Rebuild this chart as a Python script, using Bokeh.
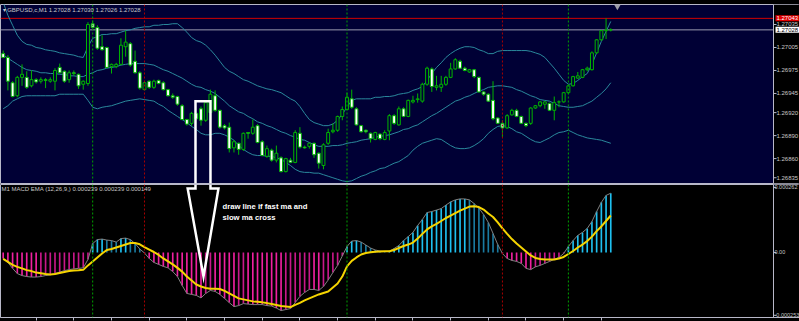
from bokeh.plotting import figure
from bokeh.models import (Range1d, Span, Label, BoxAnnotation, LinearAxis, FixedTicker,
                          CustomJSTickFormatter, ColumnDataSource)
from bokeh.layouts import column
from bokeh.embed import file_html
from bokeh.resources import INLINE

# ---------------- data ----------------
symbol_title = "\u25be GBPUSD,c,M1  1.27028 1.27030 1.27026 1.27028"
macd_title = "M1 MACD EMA (12,26,9,) 0.000239 0.000239 0.000149"
note_lines = ["draw line if fast ma and", "slow ma cross"]

opens = [1.26997,1.26992,1.26959,1.26942,1.26966,1.26966,1.26955,1.26963,1.26961,1.26963,
         1.26961,1.26961,1.26979,1.26974,1.26963,1.26972,1.26970,1.26957,1.26958,1.27036,
         1.27031,1.27006,1.27005,1.26980,1.26980,1.26983,1.27006,1.27010,1.26987,1.26972,
         1.26950,1.26961,1.26953,1.26962,1.26959,1.26950,1.26942,1.26941,1.26929,1.26911,
         1.26906,1.26919,1.26925,1.26910,1.26920,1.26942,1.26923,1.26903,1.26901,1.26874,
         1.26880,1.26872,1.26894,1.26893,1.26903,1.26882,1.26863,1.26871,1.26858,1.26861,
         1.26843,1.26858,1.26855,1.26893,1.26875,1.26876,1.26880,1.26867,1.26851,1.26880,
         1.26895,1.26897,1.26915,1.26924,1.26938,1.26925,1.26903,1.26897,1.26893,1.26885,
         1.26892,1.26885,1.26896,1.26916,1.26904,1.26925,1.26915,1.26934,1.26937,1.26935,
         1.26957,1.26977,1.26953,1.26953,1.26957,1.26966,1.26977,1.26987,1.26978,1.26973,
         1.26976,1.26966,1.26947,1.26944,1.26936,1.26913,1.26906,1.26900,1.26917,1.26923,
         1.26915,1.26906,1.26906,1.26926,1.26929,1.26931,1.26932,1.26923,1.26934,1.26934,
         1.26946,1.26955,1.26965,1.26966,1.26976,1.26976,1.26998,1.27015,1.27027,1.27028]
highs = [1.27001,1.26995,1.26961,1.26968,1.26983,1.26974,1.26975,1.26965,1.26966,1.26965,
         1.26966,1.26978,1.26984,1.26975,1.26975,1.26975,1.26971,1.26962,1.27038,1.27040,
         1.27034,1.27021,1.27006,1.26984,1.26985,1.27017,1.27027,1.27012,1.27001,1.26974,
         1.26960,1.26962,1.26963,1.26963,1.26961,1.26951,1.26945,1.26942,1.26931,1.26912,
         1.26921,1.26920,1.26928,1.26936,1.26950,1.26949,1.26924,1.26905,1.26907,1.26884,
         1.26881,1.26894,1.26894,1.26911,1.26905,1.26884,1.26877,1.26873,1.26877,1.26863,
         1.26861,1.26861,1.26897,1.26901,1.26877,1.26881,1.26881,1.26868,1.26880,1.26899,
         1.26906,1.26916,1.26928,1.26946,1.26950,1.26927,1.26904,1.26898,1.26894,1.26895,
         1.26893,1.26897,1.26918,1.26918,1.26928,1.26927,1.26937,1.26942,1.26945,1.26959,
         1.26980,1.26979,1.26968,1.26968,1.26968,1.26985,1.26991,1.26989,1.26980,1.26977,
         1.26977,1.26967,1.26948,1.26945,1.26961,1.26914,1.26910,1.26918,1.26925,1.26925,
         1.26916,1.26907,1.26927,1.26930,1.26935,1.26935,1.26933,1.26941,1.26936,1.26947,
         1.26957,1.26968,1.26973,1.26977,1.26980,1.27000,1.27016,1.27028,1.27043,1.27030]
lows = [1.26991,1.26949,1.26940,1.26940,1.26955,1.26951,1.26953,1.26958,1.26958,1.26952,
        1.26959,1.26949,1.26971,1.26959,1.26959,1.26968,1.26951,1.26950,1.26955,1.27030,
        1.27002,1.27001,1.26978,1.26971,1.26978,1.26982,1.26993,1.26980,1.26971,1.26950,
        1.26949,1.26951,1.26951,1.26957,1.26949,1.26941,1.26938,1.26929,1.26910,1.26903,
        1.26903,1.26911,1.26903,1.26908,1.26919,1.26921,1.26899,1.26898,1.26868,1.26868,
        1.26865,1.26870,1.26886,1.26891,1.26880,1.26863,1.26861,1.26856,1.26855,1.26842,
        1.26842,1.26854,1.26854,1.26873,1.26873,1.26873,1.26861,1.26847,1.26846,1.26878,
        1.26893,1.26895,1.26910,1.26923,1.26925,1.26903,1.26894,1.26893,1.26881,1.26884,
        1.26884,1.26884,1.26884,1.26904,1.26903,1.26914,1.26914,1.26932,1.26933,1.26933,
        1.26955,1.26947,1.26949,1.26947,1.26955,1.26965,1.26976,1.26977,1.26974,1.26972,
        1.26965,1.26946,1.26942,1.26934,1.26910,1.26905,1.26888,1.26899,1.26916,1.26914,
        1.26905,1.26901,1.26904,1.26925,1.26927,1.26925,1.26922,1.26910,1.26927,1.26933,
        1.26944,1.26954,1.26964,1.26965,1.26974,1.26975,1.26997,1.27014,1.27016,1.27026]
closes = [1.26992,1.26961,1.26941,1.26966,1.26970,1.26953,1.26963,1.26960,1.26963,1.26962,
          1.26963,1.26975,1.26972,1.26961,1.26972,1.26971,1.26955,1.26961,1.27035,1.27031,
          1.27004,1.27002,1.26979,1.26983,1.26983,1.27008,1.27012,1.26982,1.26972,1.26952,
          1.26959,1.26953,1.26961,1.26958,1.26950,1.26942,1.26940,1.26931,1.26911,1.26905,
          1.26919,1.26912,1.26910,1.26933,1.26944,1.26923,1.26901,1.26900,1.26873,1.26882,
          1.26872,1.26893,1.26893,1.26901,1.26881,1.26864,1.26873,1.26858,1.26867,1.26843,
          1.26860,1.26855,1.26894,1.26875,1.26874,1.26880,1.26865,1.26854,1.26878,1.26894,
          1.26897,1.26915,1.26924,1.26940,1.26927,1.26904,1.26895,1.26895,1.26886,1.26894,
          1.26886,1.26894,1.26916,1.26906,1.26925,1.26915,1.26936,1.26936,1.26938,1.26957,
          1.26978,1.26954,1.26955,1.26957,1.26966,1.26977,1.26989,1.26978,1.26975,1.26976,
          1.26967,1.26947,1.26944,1.26935,1.26912,1.26906,1.26900,1.26916,1.26923,1.26915,
          1.26906,1.26903,1.26926,1.26929,1.26934,1.26934,1.26923,1.26933,1.26934,1.26946,
          1.26955,1.26967,1.26968,1.26976,1.26978,1.26998,1.27015,1.27027,1.27028,1.27028]

bb_upper = [1.27064,1.27047,1.27034,1.27021,1.27013,1.27009,1.27008,1.27005,1.27004,1.27002,
            1.27001,1.27000,1.26998,1.26997,1.26996,1.26995,1.26993,1.26992,1.27006,1.27017,
            1.27019,1.27022,1.27022,1.27023,1.27023,1.27025,1.27027,1.27028,1.27030,1.27031,
            1.27032,1.27032,1.27034,1.27034,1.27035,1.27035,1.27036,1.27036,1.27031,1.27025,
            1.27018,1.27014,1.27012,1.27008,1.27002,1.26995,1.26987,1.26979,1.26974,1.26971,
            1.26967,1.26963,1.26961,1.26958,1.26955,1.26953,1.26951,1.26950,1.26948,1.26946,
            1.26942,1.26938,1.26935,1.26928,1.26919,1.26911,1.26907,1.26905,1.26903,1.26903,
            1.26905,1.26910,1.26918,1.26927,1.26936,1.26938,1.26938,1.26938,1.26938,1.26940,
            1.26940,1.26941,1.26941,1.26942,1.26944,1.26945,1.26946,1.26949,1.26951,1.26954,
            1.26962,1.26971,1.26979,1.26985,1.26992,1.26997,1.27001,1.27004,1.27006,1.27006,
            1.27005,1.27002,1.27000,1.26997,1.26997,1.27000,1.27001,1.27001,1.27001,1.27001,
            1.27001,1.27001,1.27000,1.26998,1.26996,1.26992,1.26985,1.26978,1.26970,1.26962,
            1.26957,1.26958,1.26962,1.26967,1.26971,1.26983,1.26998,1.27013,1.27026,1.27039]
bb_middle = [1.26995,1.26991,1.26987,1.26983,1.26979,1.26976,1.26975,1.26974,1.26972,1.26972,
             1.26971,1.26971,1.26970,1.26970,1.26968,1.26968,1.26967,1.26967,1.26970,1.26972,
             1.26975,1.26976,1.26978,1.26979,1.26980,1.26982,1.26983,1.26984,1.26984,1.26984,
             1.26984,1.26983,1.26982,1.26979,1.26976,1.26974,1.26971,1.26968,1.26965,1.26961,
             1.26957,1.26954,1.26953,1.26950,1.26948,1.26945,1.26940,1.26935,1.26929,1.26925,
             1.26921,1.26919,1.26915,1.26912,1.26908,1.26906,1.26903,1.26901,1.26898,1.26895,
             1.26893,1.26890,1.26888,1.26885,1.26884,1.26881,1.26878,1.26876,1.26876,1.26876,
             1.26877,1.26877,1.26878,1.26880,1.26881,1.26882,1.26884,1.26885,1.26886,1.26888,
             1.26889,1.26890,1.26891,1.26893,1.26895,1.26898,1.26899,1.26902,1.26904,1.26908,
             1.26912,1.26916,1.26919,1.26923,1.26927,1.26931,1.26935,1.26937,1.26940,1.26942,
             1.26945,1.26948,1.26950,1.26953,1.26954,1.26955,1.26955,1.26954,1.26953,1.26950,
             1.26948,1.26945,1.26942,1.26940,1.26937,1.26936,1.26935,1.26932,1.26929,1.26928,
             1.26927,1.26927,1.26928,1.26929,1.26932,1.26935,1.26940,1.26945,1.26951,1.26959]
bb_lower = [1.26925,1.26929,1.26935,1.26938,1.26941,1.26942,1.26942,1.26942,1.26942,1.26942,
            1.26942,1.26942,1.26944,1.26944,1.26944,1.26944,1.26944,1.26944,1.26936,1.26927,
            1.26925,1.26927,1.26928,1.26929,1.26931,1.26933,1.26935,1.26936,1.26937,1.26938,
            1.26937,1.26936,1.26935,1.26931,1.26928,1.26923,1.26919,1.26915,1.26911,1.26907,
            1.26902,1.26898,1.26893,1.26891,1.26891,1.26893,1.26893,1.26891,1.26888,1.26884,
            1.26877,1.26872,1.26868,1.26865,1.26864,1.26864,1.26863,1.26863,1.26861,1.26859,
            1.26855,1.26851,1.26846,1.26843,1.26842,1.26842,1.26841,1.26841,1.26839,1.26837,
            1.26835,1.26833,1.26831,1.26830,1.26831,1.26834,1.26837,1.26839,1.26842,1.26844,
            1.26847,1.26848,1.26851,1.26854,1.26856,1.26860,1.26864,1.26871,1.26876,1.26880,
            1.26882,1.26884,1.26886,1.26885,1.26881,1.26877,1.26874,1.26873,1.26873,1.26874,
            1.26877,1.26881,1.26886,1.26893,1.26898,1.26902,1.26903,1.26902,1.26899,1.26895,
            1.26893,1.26889,1.26885,1.26882,1.26881,1.26884,1.26887,1.26891,1.26894,1.26895,
            1.26897,1.26894,1.26891,1.26889,1.26887,1.26886,1.26885,1.26884,1.26882,1.26880]

macd_main = [-24e-6,-40e-6,-64e-6,-85e-6,-93e-6,-97e-6,-99e-6,-99e-6,-97e-6,-93e-6,
             -90e-6,-85e-6,-79e-6,-73e-6,-69e-6,-66e-6,-64e-6,-62e-6,-28e-6,36e-6,
             52e-6,54e-6,50e-6,48e-6,42e-6,56e-6,58e-6,52e-6,36e-6,14e-6,
             -2e-6,-24e-6,-40e-6,-48e-6,-56e-6,-62e-6,-77e-6,-97e-6,-133e-6,-165e-6,
             -169e-6,-173e-6,-183e-6,-165e-6,-153e-6,-157e-6,-169e-6,-185e-6,-202e-6,-218e-6,
             -214e-6,-206e-6,-208e-6,-210e-6,-210e-6,-210e-6,-214e-6,-216e-6,-224e-6,-234e-6,
             -230e-6,-226e-6,-202e-6,-177e-6,-161e-6,-149e-6,-149e-6,-153e-6,-137e-6,-111e-6,
             -81e-6,-52e-6,-14e-6,24e-6,46e-6,48e-6,42e-6,30e-6,18e-6,10e-6,
             6e-6,4e-6,5e-6,16e-6,28e-6,48e-6,64e-6,81e-6,109e-6,133e-6,
             161e-6,165e-6,171e-6,177e-6,191e-6,204e-6,212e-6,216e-6,216e-6,212e-6,
             197e-6,179e-6,153e-6,121e-6,77e-6,32e-6,-4e-6,-24e-6,-32e-6,-36e-6,
             -44e-6,-64e-6,-69e-6,-58e-6,-52e-6,-44e-6,-36e-6,-28e-6,-20e-6,-4e-6,
             24e-6,48e-6,69e-6,81e-6,97e-6,125e-6,165e-6,202e-6,230e-6,239e-6]
macd_signal = [-26e-6,-38e-6,-50e-6,-58e-6,-64e-6,-71e-6,-75e-6,-81e-6,-84e-6,-87e-6,
               -89e-6,-87e-6,-83e-6,-79e-6,-75e-6,-73e-6,-72e-6,-70e-6,-52e-6,-36e-6,
               -20e-6,-4e-6,10e-6,14e-6,20e-6,26e-6,32e-6,38e-6,38e-6,33e-6,
               22e-6,12e-6,2e-6,-10e-6,-24e-6,-36e-6,-48e-6,-62e-6,-77e-6,-97e-6,
               -113e-6,-129e-6,-137e-6,-143e-6,-146e-6,-146e-6,-147e-6,-155e-6,-165e-6,-175e-6,
               -185e-6,-189e-6,-193e-6,-197e-6,-199e-6,-201e-6,-204e-6,-208e-6,-212e-6,-216e-6,
               -218e-6,-220e-6,-211e-6,-203e-6,-193e-6,-185e-6,-177e-6,-169e-6,-163e-6,-157e-6,
               -141e-6,-125e-6,-97e-6,-56e-6,-34e-6,-20e-6,-8e-6,-2e-6,1e-6,3e-6,
               4e-6,5e-6,5e-6,10e-6,18e-6,26e-6,32e-6,40e-6,56e-6,75e-6,
               93e-6,105e-6,115e-6,127e-6,139e-6,149e-6,159e-6,169e-6,177e-6,185e-6,
               186e-6,183e-6,173e-6,157e-6,143e-6,121e-6,97e-6,75e-6,54e-6,36e-6,
               20e-6,4e-6,-12e-6,-22e-6,-26e-6,-28e-6,-28e-6,-28e-6,-24e-6,-18e-6,
               -6e-6,6e-6,20e-6,32e-6,46e-6,64e-6,86e-6,105e-6,127e-6,149e-6]

price_ticks = [1.27035, 1.27005, 1.26975, 1.26945, 1.26920, 1.26890, 1.26860, 1.26835]
macd_ticks = [0.000262, 0.0, -0.000253]
macd_tick_labels = ["0.000262", "0.00", "-0.000253"]
alert_level = 1.27043
bid_level = closes[-1]
zero_cross_bars = [19, 30, 73, 106, 120]
zero_cross_dirs = ["up", "down", "up", "down", "up"]
shift_marker_bar = 130.4

# hand-drawn arrow annotation (bar index / price / macd units)
arrow_shaft_x = [40.83, 44.01]
arrow_shaft_top = 1.26935
arrow_head_x = [40.83, 40.83, 39.17, 42.53, 45.71, 44.01, 44.01]
arrow_head_y = [0.000274, 0.000258, 0.000258, -0.000097, 0.000258, 0.000258, 0.000274]

# ---------------- layout / styling ----------------
BG_MAIN = "#000035"
CANDLE = "#00b400"
BAND = "#2a889c"
SIGNAL = "#f5d400"
MACD_LINE = "#808080"
TXT = "#c8c8c8"
EDGE = "#b8b8c8"
FONT = "Liberation Sans"

BAR_PX = 4.71            # pixels per bar
CHART_PX = 773           # width of the chart area (price scale to its right)
TOTAL_PX = 799
x_start = -0.57
chart_end = x_start + CHART_PX / BAR_PX
x_end = x_start + TOTAL_PX / BAR_PX
tick_len = 3 / BAR_PX

N = len(opens)
bars = list(range(N))
x_range = Range1d(x_start, x_end)


def scale_strip(p):
    # black price-scale strip right of the chart area, with its separator
    p.add_layout(BoxAnnotation(left=chart_end, fill_color="black", fill_alpha=1,
                               line_alpha=0, level="underlay"))
    p.add_layout(Span(location=chart_end, dimension="height", line_color=EDGE, line_width=1))


# ---------------- main price panel ----------------
y1 = Range1d(1.268275, 1.270611)
p1 = figure(frame_width=TOTAL_PX, frame_height=179, x_range=x_range, y_range=y1,
            x_axis_location=None, y_axis_location=None,
            output_backend="svg", toolbar_location=None,
            min_border_left=0, min_border_right=0, min_border_top=4, min_border_bottom=1,
            background_fill_color=BG_MAIN, border_fill_color="black")
p1.outline_line_color = EDGE
p1.grid.visible = False
scale_strip(p1)

for b, d in zip(zero_cross_bars, zero_cross_dirs):
    col = "#00a000" if d == "up" else "#a80000"
    p1.add_layout(Span(location=b, dimension="height", line_color=col,
                       line_dash="2 2", line_width=1))
p1.segment(x0=[x_start], x1=[chart_end], y0=[alert_level], y1=[alert_level],
           line_color="#d00000", line_width=1)
p1.segment(x0=[x_start], x1=[chart_end], y0=[bid_level], y1=[bid_level],
           line_color="#9a9ab0", line_width=1)
p1.segment(x0=[chart_end] * len(price_ticks), x1=[chart_end + tick_len] * len(price_ticks),
           y0=price_ticks, y1=price_ticks, line_color=EDGE, line_width=1)
p1.scatter(x=[shift_marker_bar], y=[y1.end - 0.000022], marker="inverted_triangle",
           size=7, fill_color="#a0a0a8", line_color=None)

p1.line(bars, bb_upper, line_color=BAND, line_width=1)
p1.line(bars, bb_middle, line_color=BAND, line_width=1)
p1.line(bars, bb_lower, line_color=BAND, line_width=1)

src = ColumnDataSource(dict(
    x=bars, h=highs, l=lows,
    top=[max(o, c) for o, c in zip(opens, closes)],
    bot=[min(o, c) for o, c in zip(opens, closes)],
    fill=["#ffffff" if c < o else BG_MAIN for o, c in zip(opens, closes)],
))
p1.segment(x0="x", y0="l", x1="x", y1="h", source=src, line_color=CANDLE, line_width=1)
p1.vbar(x="x", top="top", bottom="bot", width=0.62, source=src,
        fill_color="fill", line_color=CANDLE, line_width=1)

p1.line([arrow_shaft_x[0], arrow_shaft_x[0], arrow_shaft_x[1], arrow_shaft_x[1]],
        [y1.start, arrow_shaft_top, arrow_shaft_top, y1.start],
        line_color="white", line_width=2.5, line_join="miter")

p1.add_layout(Label(x=2, y=174, x_units="screen", y_units="screen", text=symbol_title,
                    text_font=FONT, text_font_size="6px", text_color=TXT,
                    text_baseline="middle"))
for t in price_ticks:
    p1.add_layout(Label(x=776, x_units="screen", y=t, text=f"{t:.5f}",
                        text_font=FONT, text_font_size="6px", text_color=TXT,
                        text_baseline="middle"))
p1.add_layout(Label(x=775, x_units="screen", y=alert_level, text=f"{alert_level:.5f}",
                    text_font=FONT, text_font_size="6px", text_color="white",
                    text_baseline="middle", background_fill_color="#e00000", padding=1))
p1.add_layout(Label(x=775, x_units="screen", y=bid_level, text=f"{bid_level:.5f}",
                    text_font=FONT, text_font_size="6px", text_color="black",
                    text_baseline="middle", background_fill_color="white", padding=1))

# ---------------- MACD panel ----------------
y2 = Range1d(-0.000262, 0.000274)
p2 = figure(frame_width=TOTAL_PX, frame_height=133, x_range=x_range, y_range=y2,
            x_axis_location=None, y_axis_location=None,
            output_backend="svg", toolbar_location=None,
            min_border_left=0, min_border_right=0, min_border_top=0, min_border_bottom=4,
            background_fill_color="black", border_fill_color="black")
p2.outline_line_color = EDGE
p2.grid.visible = False
scale_strip(p2)

ax2 = LinearAxis(ticker=FixedTicker(ticks=list(range(7, N, 8))),
                 formatter=CustomJSTickFormatter(code="return ''"),
                 major_tick_out=3, major_tick_in=0, minor_tick_out=0, minor_tick_in=0,
                 major_label_standoff=0, axis_line_color=EDGE,
                 major_tick_line_color=EDGE)
p2.add_layout(ax2, "below")

for b, d in zip(zero_cross_bars, zero_cross_dirs):
    col = "#00a000" if d == "up" else "#a80000"
    p2.add_layout(Span(location=b, dimension="height", line_color=col,
                       line_dash="2 2", line_width=1))
p2.segment(x0=[chart_end] * len(macd_ticks), x1=[chart_end + tick_len] * len(macd_ticks),
           y0=macd_ticks, y1=macd_ticks, line_color=EDGE, line_width=1)

hist_colors = []
for k, v in enumerate(macd_main):
    prev = macd_main[k - 1] if k > 0 else v
    if v >= 0:
        hist_colors.append("#1ec0f0" if v >= prev else "#1a7aa0")
    else:
        hist_colors.append("#f020a0" if v <= prev else "#c8188a")
p2.vbar(x=bars, top=macd_main, bottom=0, width=0.35, fill_color=hist_colors,
        line_color=None)
p2.line(bars, macd_main, line_color=MACD_LINE, line_width=1)
p2.line(bars, macd_signal, line_color=SIGNAL, line_width=2)

p2.line(arrow_head_x, arrow_head_y, line_color="white", line_width=2.5, line_join="miter")

p2.add_layout(Label(x=1, y=129, x_units="screen", y_units="screen", text=macd_title,
                    text_font=FONT, text_font_size="6px", text_color=TXT,
                    text_baseline="middle"))
for t, lab in zip(macd_ticks, macd_tick_labels):
    p2.add_layout(Label(x=774, x_units="screen", y=t, text=lab,
                        text_font=FONT, text_font_size="5.5px", text_color=TXT,
                        text_baseline="middle"))
p2.add_layout(Label(x=222, x_units="screen", y=0.000185, text=note_lines[0],
                    text_font=FONT, text_font_size="7.7px", text_font_style="bold",
                    text_color="white", text_baseline="middle"))
p2.add_layout(Label(x=222, x_units="screen", y=0.000139, text=note_lines[1],
                    text_font=FONT, text_font_size="7.7px", text_font_style="bold",
                    text_color="white", text_baseline="middle"))

layout = column(p1, p2, spacing=0)
html = file_html(layout, INLINE, title="GBPUSD M1")
html = html.replace("<body>", '<body style="margin:0;background:#000000;">')
open("out.html", "w").write(html)
